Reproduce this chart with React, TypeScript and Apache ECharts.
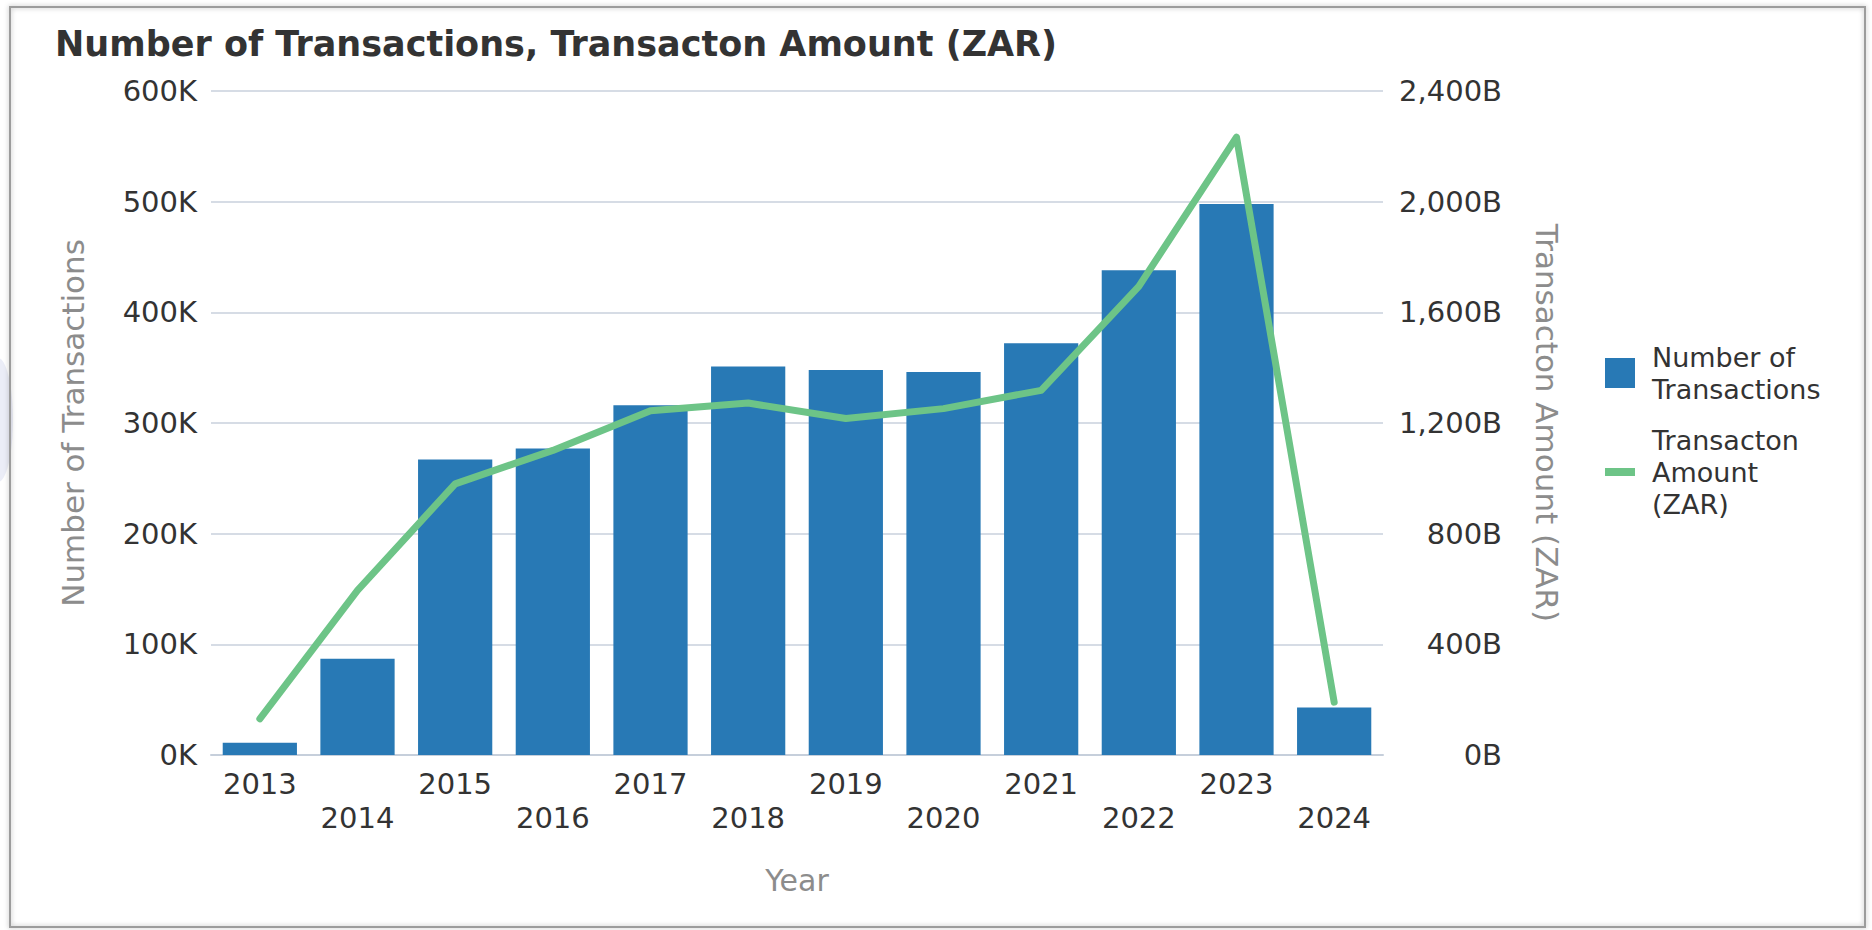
import React, { useEffect, useRef } from 'react';
import * as echarts from 'echarts';

const years = ['2013', '2014', '2015', '2016', '2017', '2018', '2019', '2020', '2021', '2022', '2023', '2024'];
const transactionCounts = [11000, 87000, 267000, 277000, 316000, 351000, 348000, 346000, 372000, 438000, 498000, 43000];
const transactionAmounts = [131e9, 595e9, 980e9, 1101e9, 1244e9, 1272e9, 1216e9, 1252e9, 1318e9, 1694e9, 2233e9, 191e9];

const countName = 'Number of Transactions';
const amountName = 'Transacton Amount (ZAR)';
const legendLabels: Record<string, string> = {
  [countName]: 'Number of\nTransactions',
  [amountName]: 'Transacton\nAmount\n(ZAR)',
};

const FONT = 'DejaVu Sans';

export default function App() {
  const ref = useRef<HTMLDivElement>(null);
  useEffect(() => {
    if (!ref.current) return;
    const chart = echarts.init(ref.current, null, { renderer: 'svg' });
    chart.setOption({
      animation: false,
      backgroundColor: '#ffffff',
      textStyle: { fontFamily: FONT },
      title: {
        text: 'Number of Transactions, Transacton Amount (ZAR)',
        left: 50,
        top: 21,
        textStyle: { fontFamily: FONT, fontWeight: 'bold', fontSize: 35, color: '#333333' },
      },
      graphic: [
        {
          type: 'ellipse',
          z: -10,
          shape: { cx: -2, cy: 420, rx: 15, ry: 62 },
          style: { fill: 'rgba(205,210,235,0.4)' },
          silent: true,
        },
        {
          type: 'rect',
          z: 100,
          shape: { x: 10, y: 7, width: 1855, height: 920 },
          style: { fill: 'none', stroke: '#9c9c9c', lineWidth: 2, shadowBlur: 5, shadowColor: 'rgba(0,0,0,0.3)' },
          silent: true,
        },
      ],
      legend: {
        orient: 'vertical',
        left: 1605,
        top: 341,
        padding: 0,
        itemGap: 19,
        itemWidth: 30,
        itemHeight: 30,
        itemStyle: { borderWidth: 0 },
        formatter: (name: string) => legendLabels[name] || name,
        textStyle: { fontFamily: FONT, fontSize: 27, lineHeight: 32, color: '#333333', padding: [0, 0, 0, 12] },
        data: [
          { name: countName, icon: 'rect' },
          { name: amountName, icon: 'path://M0,0H30V8H0Z' },
        ],
      },
      grid: { left: 211, right: 489, top: 91, bottom: 175, containLabel: false },
      xAxis: {
        type: 'category',
        data: years,
        name: 'Year',
        nameLocation: 'middle',
        nameGap: 110,
        nameTextStyle: { fontFamily: FONT, fontSize: 30, color: '#8c8c8c' },
        axisLine: { show: true, lineStyle: { color: '#c6cfdb', width: 2 } },
        axisTick: { show: false },
        axisLabel: {
          interval: 0,
          margin: 12,
          fontFamily: FONT,
          fontSize: 29,
          lineHeight: 34,
          color: '#333333',
          formatter: (v: string, i: number) => (i % 2 === 1 ? '\n' + v : v),
        },
      },
      yAxis: [
        {
          type: 'value',
          min: 0,
          max: 600000,
          interval: 100000,
          name: countName,
          nameLocation: 'middle',
          nameGap: 123,
          nameTextStyle: { fontFamily: FONT, fontSize: 31, color: '#8c8c8c' },
          axisLine: { show: false },
          axisTick: { show: false },
          splitLine: { show: true, lineStyle: { color: '#d6dce5', width: 2 } },
          axisLabel: {
            margin: 14,
            fontFamily: FONT,
            fontSize: 29,
            color: '#333333',
            formatter: (v: number) => `${Math.round(v / 1000)}K`,
          },
        },
        {
          type: 'value',
          min: 0,
          max: 2400e9,
          interval: 400e9,
          name: amountName,
          nameLocation: 'middle',
          nameRotate: -90,
          nameGap: 148,
          nameTextStyle: { fontFamily: FONT, fontSize: 31, color: '#8c8c8c' },
          axisLine: { show: false },
          axisTick: { show: false },
          splitLine: { show: false },
          axisLabel: {
            margin: 119,
            align: 'right',
            fontFamily: FONT,
            fontSize: 29,
            color: '#333333',
            formatter: (v: number) => `${Math.round(v / 1e9).toLocaleString('en-US')}B`,
          },
        },
      ],
      series: [
        {
          name: countName,
          type: 'bar',
          yAxisIndex: 0,
          data: transactionCounts,
          barCategoryGap: '24%',
          itemStyle: { color: '#2879b5' },
        },
        {
          name: amountName,
          type: 'line',
          yAxisIndex: 1,
          data: transactionAmounts,
          symbol: 'none',
          lineStyle: { color: '#6dc487', width: 7, cap: 'round', join: 'round' },
          itemStyle: { color: '#6dc487' },
          z: 5,
        },
      ],
    });
    return () => chart.dispose();
  }, []);
  return <div ref={ref} style={{ position: 'fixed', left: 0, top: 0, width: 1872, height: 930 }} />;
}
